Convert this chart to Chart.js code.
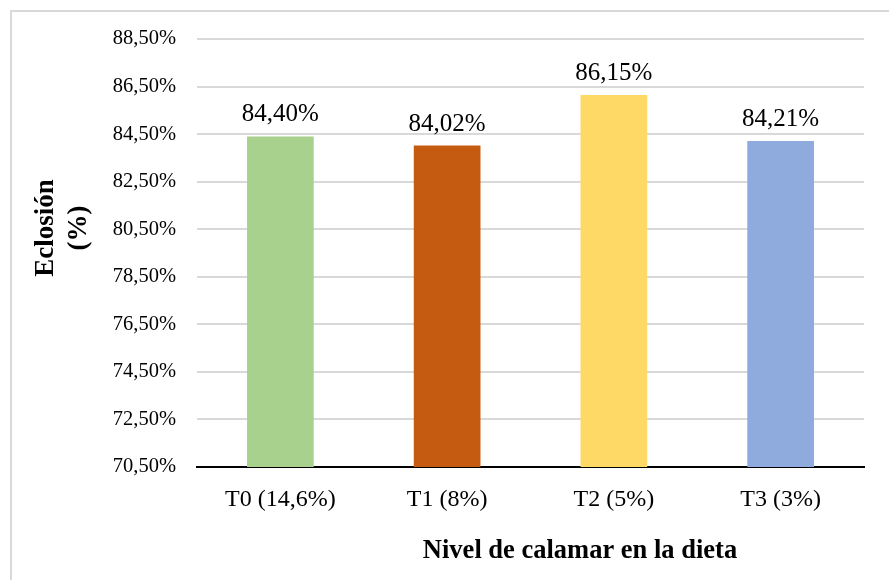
<!DOCTYPE html>
<html>
<head>
<meta charset="utf-8">
<script src="https://cdn.jsdelivr.net/npm/chart.js@4/dist/chart.umd.min.js"></script>
<style>
html,body{margin:0;padding:0;background:#fff;}
#wrap{width:889px;height:580px;position:relative;}
</style>
</head>
<body>
<div id="wrap"><canvas id="c" width="889" height="580"></canvas></div>
<script>
const categories = ["T0 (14,6%)", "T1 (8%)", "T2 (5%)", "T3 (3%)"];
const eclosion = [84.40, 84.02, 86.15, 84.21];
const barColors = ["#a9d18e", "#c55a11", "#ffd966", "#8faadc"];
const yMin = 70.5, yMax = 88.5, yStep = 2;
const yTitleLines = ["Eclosión", "(%)"];
const xTitle = "Nivel de calamar en la dieta";

const fmt = v => v.toFixed(2).replace(".", ",") + "%";
const SERIF = "'Liberation Serif', 'Times New Roman', serif";

const decor = {
  id: "decor",
  beforeDraw(chart) {
    const ctx = chart.ctx;
    ctx.save();
    ctx.strokeStyle = "#d9d9d9";
    ctx.lineWidth = 2;
    ctx.strokeRect(11, 11, 900, 600);
    ctx.restore();
  },
  afterDraw(chart) {
    const ctx = chart.ctx;
    const meta = chart.getDatasetMeta(0);
    ctx.save();
    ctx.fillStyle = "#000";
    ctx.font = "25px " + SERIF;
    ctx.textAlign = "center";
    ctx.textBaseline = "alphabetic";
    meta.data.forEach((bar, i) => {
      ctx.fillText(fmt(eclosion[i]), bar.x, bar.y - 15);
    });
    // x title
    ctx.font = "bold 26.5px " + SERIF;
    ctx.textBaseline = "middle";
    ctx.fillText(xTitle, 580, 551);
    // y title
    ctx.font = "bold 27px " + SERIF;
    ctx.translate(0, 228);
    ctx.rotate(-Math.PI / 2);
    ctx.fillText(yTitleLines[0], 0, 46);
    ctx.fillText(yTitleLines[1], 0, 79);
    ctx.restore();
  }
};

new Chart(document.getElementById("c"), {
  type: "bar",
  data: {
    labels: categories,
    datasets: [{
      data: eclosion,
      backgroundColor: barColors,
      borderWidth: 0,
      barPercentage: 0.8,
      categoryPercentage: 0.5
    }]
  },
  options: {
    responsive: false,
    animation: false,
    devicePixelRatio: 1,
    layout: { padding: { left: 10, top: 39, right: 25, bottom: 0 } },
    plugins: { legend: { display: false }, tooltip: { enabled: false } },
    scales: {
      x: {
        grid: { display: false, drawTicks: false },
        border: { display: true, color: "#000", width: 2 },
        ticks: { color: "#000", font: { family: SERIF, size: 24 }, padding: 18 },
        afterFit(s) { s.height = 113; }
      },
      y: {
        min: yMin, max: yMax,
        grid: { color: "#d9d9d9", lineWidth: 2, drawTicks: false },
        border: { display: false },
        ticks: {
          stepSize: yStep,
          color: "#000",
          font: { family: SERIF, size: 20.5 },
          padding: 21,
          callback: v => fmt(v)
        },
        afterFit(s) { s.width = 187; }
      }
    }
  },
  plugins: [decor]
});
</script>
</body>
</html>
